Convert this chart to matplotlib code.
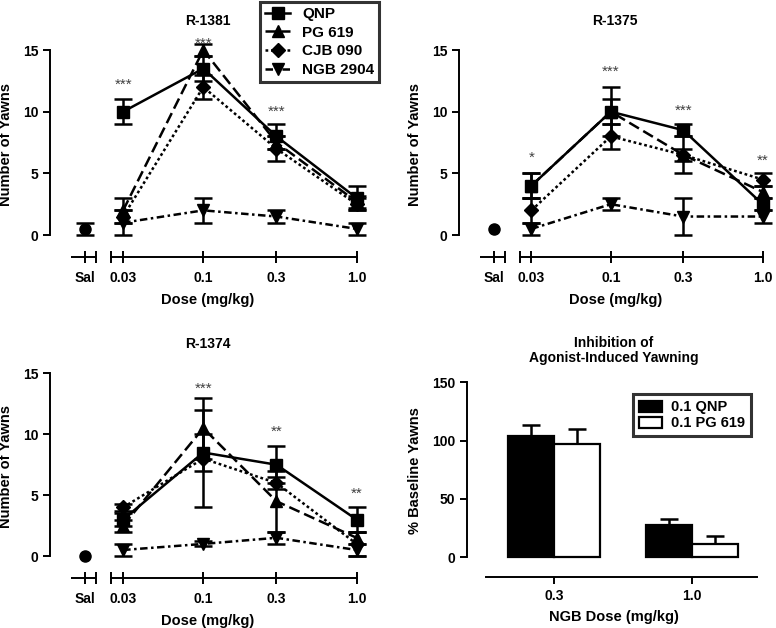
import numpy as np
import matplotlib
matplotlib.use('Agg')
import matplotlib.pyplot as plt

plt.rcParams['font.family'] = ['Liberation Sans', 'DejaVu Sans']
plt.rcParams['font.weight'] = 'bold'
plt.rcParams['axes.labelweight'] = 'bold'
plt.rcParams['axes.titleweight'] = 'bold'

# ---------------- data ----------------
doses = [0.03, 0.1, 0.3, 1.0]
dose_labels = ['0.03', '0.1', '0.3', '1.0']
drugs = ['QNP', 'PG 619', 'CJB 090', 'NGB 2904']

# R-1381
r1381_qnp = [10, 13.5, 8, 3];      r1381_qnp_err = [1, 1, 1, 1]
r1381_pg = [2, 15, 7.5, 2.7];      r1381_pg_err = [1, 0.5, 0.5, 0.5]
r1381_cjb = [1.5, 12, 7, 2.5];     r1381_cjb_err = [0.5, 1, 1, 0.5]
r1381_ngb = [1, 2, 1.5, 0.5];      r1381_ngb_err = [1, 1, 0.5, 0.5]
r1381_sal = 0.5;                   r1381_sal_err = 0.5
r1381_stars = ['***', '***', '***', '']
r1381_star_y = [12.2, 15.5, 10.0, 0]

# R-1375
r1375_qnp = [4, 10, 8.5, 2.5];     r1375_qnp_err = [1, 1, 0.5, 0.5]
r1375_pg = [4, 10, 6.5, 3.5];      r1375_pg_err = [1, 2, 1.5, 0.5]
r1375_cjb = [2, 8, 6.5, 4.5];      r1375_cjb_err = [1, 1, 0.5, 0.5]
r1375_ngb = [0.5, 2.5, 1.5, 1.5];  r1375_ngb_err = [0.5, 0.5, 1.5, 0.5]
r1375_sal = 0.5;                   r1375_sal_err = 0
r1375_stars = ['*', '***', '***', '**']
r1375_star_y = [6.3, 13.2, 10.1, 6.0]

# R-1374
r1374_qnp = [3, 8.5, 7.5, 3];      r1374_qnp_err = [0.5, 1.5, 1.5, 1]
r1374_pg = [2.5, 10.5, 4.5, 1.5];  r1374_pg_err = [0.5, 2.5, 2.5, 0.5]
r1374_cjb = [4, 8, 6, 1];          r1374_cjb_err = [0.3, 4, 0.5, 1]
r1374_ngb = [0.5, 1, 1.5, 0.5];    r1374_ngb_err = [0.5, 0.2, 0.5, 0.5]
r1374_sal = 0;                     r1374_sal_err = 0
r1374_stars = ['', '***', '**', '**']
r1374_star_y = [0, 13.7, 10.2, 5.1]

# Inhibition panel
ngb_doses = ['0.3', '1.0']
inh_series = ['0.1 QNP', '0.1 PG 619']
inh_qnp = [104, 28];   inh_qnp_err = [9, 4.5]
inh_pg = [97, 11];     inh_pg_err = [13, 7]

# ---------------- styles ----------------
styles = {
    'QNP':      dict(marker='s', ms=8, dashes=()),
    'PG 619':   dict(marker='^', ms=9, dashes=(4.5, 2.0)),
    'CJB 090':  dict(marker='D', ms=7, dashes=(1.1, 1.1)),
    'NGB 2904': dict(marker='v', ms=9, dashes=(3.0, 1.4, 1.0, 1.4)),
}
LW = 1.8
SAL_POS = -1.77
SAL_SEG = (-1.86, -1.70)
MAIN_LEFT = -1.60
YBOT = -1.8
EB = dict(ecolor='k', elinewidth=1.8, capsize=6.5, capthick=1.8)

fig = plt.figure(figsize=(7.76, 6.28), dpi=100)

def dose_panel(rect, title, series, errs, sal, sal_err, stars, star_y):
    ax = fig.add_axes(rect)
    x = np.log10(doses)
    handles = []
    for name, y, e in zip(drugs, series, errs):
        st = styles[name]
        ax.errorbar(x, y, yerr=e, fmt='none', zorder=3, **EB)
        ln, = ax.plot(x, y, color='k', lw=LW, marker=st['marker'], ms=st['ms'],
                      mfc='k', mec='k', zorder=4, label=name)
        if st['dashes']:
            ln.set_dashes(st['dashes'])
        handles.append(ln)
    if sal_err > 0:
        ax.errorbar([SAL_POS], [sal], yerr=[sal_err], fmt='none', zorder=3, **EB)
    ax.plot([SAL_POS], [sal], 'o', color='k', ms=8, zorder=4, clip_on=False)
    for xi, s, sy in zip(x, stars, star_y):
        if s:
            ax.text(xi, sy, s, ha='center', va='center', fontsize=11,
                    color='#404040', fontweight='normal')
    ax.set_xlim(-2.0, 0.06)
    ax.set_ylim(YBOT, 16.5)
    ax.spines['top'].set_visible(False)
    ax.spines['right'].set_visible(False)
    ax.spines['left'].set_bounds(0, 15)
    ax.spines['bottom'].set_bounds(MAIN_LEFT, 0)
    for sp in ('left', 'bottom'):
        ax.spines[sp].set_linewidth(1.4)
    ax.plot(SAL_SEG, [YBOT, YBOT], color='k', lw=1.4, clip_on=False,
            solid_capstyle='butt')
    ax.set_yticks([0, 5, 10, 15])
    ax.set_xticks([SAL_POS] + list(x))
    ax.set_xticklabels(['Sal'] + dose_labels)
    ax.set_xticks([SAL_SEG[1], MAIN_LEFT], minor=True)
    ax.tick_params(axis='x', which='both', direction='inout', length=8,
                   width=1.4, labelsize=10, pad=6)
    ax.tick_params(axis='y', direction='out', length=5, width=1.4, labelsize=10)
    ax.set_xlabel('Dose (mg/kg)', fontsize=10.5, labelpad=6)
    ax.set_ylabel('Number of Yawns', fontsize=10.5, labelpad=7)
    ax.set_title(title, fontsize=10, pad=5)
    return ax, handles

ax1, h1 = dose_panel([0.0644, 0.5904, 0.407, 0.3594], 'R-1381',
                     [r1381_qnp, r1381_pg, r1381_cjb, r1381_ngb],
                     [r1381_qnp_err, r1381_pg_err, r1381_cjb_err, r1381_ngb_err],
                     r1381_sal, r1381_sal_err, r1381_stars, r1381_star_y)
ax2, _ = dose_panel([0.5915, 0.5904, 0.403, 0.3594], 'R-1375',
                    [r1375_qnp, r1375_pg, r1375_cjb, r1375_ngb],
                    [r1375_qnp_err, r1375_pg_err, r1375_cjb_err, r1375_ngb_err],
                    r1375_sal, r1375_sal_err, r1375_stars, r1375_star_y)
ax3, _ = dose_panel([0.0644, 0.0796, 0.407, 0.355], 'R-1374',
                    [r1374_qnp, r1374_pg, r1374_cjb, r1374_ngb],
                    [r1374_qnp_err, r1374_pg_err, r1374_cjb_err, r1374_ngb_err],
                    r1374_sal, r1374_sal_err, r1374_stars, r1374_star_y)

leg = fig.legend(handles=h1, labels=drugs, loc='upper left',
                 bbox_to_anchor=(0.335, 0.997), frameon=True, fancybox=False,
                 edgecolor='k', fontsize=11, handlelength=1.6, handletextpad=0.8,
                 labelspacing=0.3, borderpad=0.35, borderaxespad=0)
leg.get_frame().set_linewidth(2.2)

# ---------------- bar panel ----------------
ax4 = fig.add_axes([0.6018, 0.0812, 0.379, 0.338])
xg = np.arange(len(ngb_doses))
bw = 0.335
ax4.bar(xg - bw / 2, inh_qnp, width=bw, color='k', edgecolor='k', lw=1.6,
        label=inh_series[0], zorder=2)
ax4.bar(xg + bw / 2, inh_pg, width=bw, color='white', edgecolor='k', lw=1.6,
        label=inh_series[1], zorder=2)
ax4.errorbar(xg - bw / 2, inh_qnp, yerr=[np.zeros(2), inh_qnp_err], fmt='none',
             zorder=1, **EB)
ax4.errorbar(xg + bw / 2, inh_pg, yerr=[np.zeros(2), inh_pg_err], fmt='none',
             zorder=1, **EB)
ax4.set_xlim(-0.63, 1.5)
ax4.set_ylim(-17, 165)
ax4.spines['top'].set_visible(False)
ax4.spines['right'].set_visible(False)
ax4.spines['left'].set_bounds(0, 150)
ax4.spines['bottom'].set_bounds(-0.49, 1.47)
for sp in ('left', 'bottom'):
    ax4.spines[sp].set_linewidth(1.4)
ax4.set_yticks([0, 50, 100, 150])
ax4.set_xticks(xg)
ax4.set_xticklabels(ngb_doses)
ax4.tick_params(axis='both', direction='out', length=5, width=1.4, labelsize=10)
ax4.set_xlabel('NGB Dose (mg/kg)', fontsize=10.5, labelpad=5)
ax4.set_ylabel('% Baseline Yawns', fontsize=10.5, labelpad=7)
ax4.set_title('Inhibition of\nAgonist-Induced Yawning', fontsize=10, pad=2,
              linespacing=1.1)
leg4 = ax4.legend(loc='upper left', bbox_to_anchor=(0.565, 0.86), frameon=True,
                  fancybox=False, edgecolor='k', fontsize=10.5, handlelength=1.6,
                  handleheight=0.8, handletextpad=0.6, labelspacing=0.15,
                  borderpad=0.4, borderaxespad=0)
leg4.get_frame().set_linewidth(2.2)

fig.savefig('out.png', dpi=100)
